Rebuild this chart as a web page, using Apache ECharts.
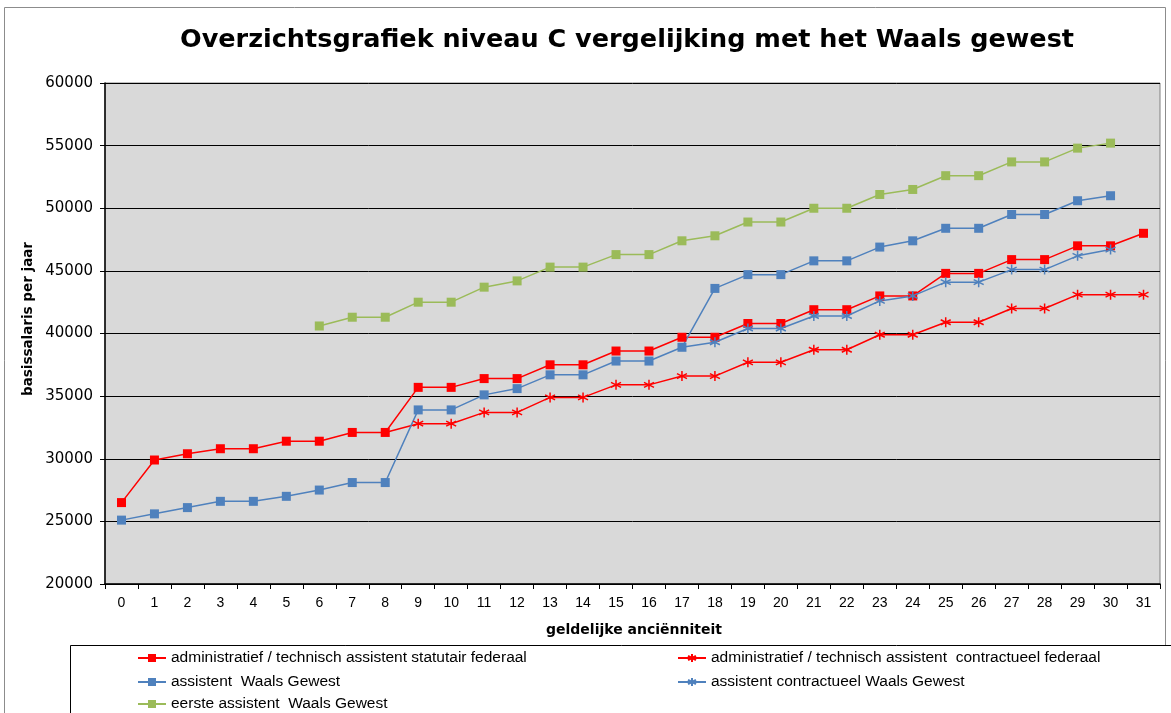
<!DOCTYPE html>
<html>
<head>
<meta charset="utf-8">
<title>Overzichtsgrafiek niveau C</title>
<script src="https://cdn.jsdelivr.net/npm/echarts@6/dist/echarts.min.js"></script>
<style>
  html, body { margin: 0; padding: 0; background: #ffffff; }
  #chart { width: 1171px; height: 713px; }
</style>
</head>
<body>
<div id="chart"></div>
<script>
// Geldelijke anciënniteit (jaren)
const categories = ['0','1','2','3','4','5','6','7','8','9','10','11','12','13','14','15',
  '16','17','18','19','20','21','22','23','24','25','26','27','28','29','30','31'];

const yTicks = { min: 20000, max: 60000, step: 5000 };

// Basissalaris per jaar
const statutairFederaal = [26500, 29900, 30400, 30800, 30800, 31400, 31400, 32100, 32100,
  35700, 35700, 36400, 36400, 37500, 37500, 38600, 38600, 39700, 39700, 40800, 40800,
  41900, 41900, 43000, 43000, 44800, 44800, 45900, 45900, 47000, 47000, 48000];

const contractueelFederaal = [null, null, null, null, null, null, null, null, 32100,
  32800, 32800, 33700, 33700, 34900, 34900, 35900, 35900, 36600, 36600, 37700, 37700,
  38700, 38700, 39900, 39900, 40900, 40900, 42000, 42000, 43100, 43100, 43100];

const assistentWaals = [25100, 25600, 26100, 26600, 26600, 27000, 27500, 28100, 28100,
  33900, 33900, 35100, 35600, 36700, 36700, 37800, 37800, 38900, 43600, 44700, 44700,
  45800, 45800, 46900, 47400, 48400, 48400, 49500, 49500, 50600, 51000, null];

const contractueelWaals = [null, null, null, null, null, null, null, null, null, null, null,
  null, null, null, null, null, null, 38900, 39300, 40400, 40400, 41400, 41400, 42600,
  43000, 44100, 44100, 45100, 45100, 46200, 46700, null];

const eersteAssistentWaals = [null, null, null, null, null, null, 40600, 41300, 41300,
  42500, 42500, 43700, 44200, 45300, 45300, 46300, 46300, 47400, 47800, 48900, 48900,
  50000, 50000, 51100, 51500, 52600, 52600, 53700, 53700, 54800, 55200, null];

const names = [
  'administratief / technisch assistent statutair federaal',
  'administratief / technisch assistent  contractueel federaal',
  'assistent  Waals Gewest',
  'assistent contractueel Waals Gewest',
  'eerste assistent  Waals Gewest'
];

// six-armed asterisk marker
const ASTERISK = 'path://M5,0L5,10M0.7,2.5L9.3,7.5M9.3,2.5L0.7,7.5';

// the first point of a branch-off series sits on its parent line: no marker there
function branchData(values) {
  const first = values.findIndex(v => v !== null);
  return values.map((v, i) => (i === first ? { value: v, symbol: 'none' } : v));
}

function squareSeries(name, values, color) {
  return {
    name, type: 'line', data: values, color,
    symbol: 'rect', symbolSize: 9,
    lineStyle: { width: 1.5, color },
    itemStyle: { color },
    connectNulls: false, animation: false
  };
}

function starSeries(name, values, color) {
  return {
    name, type: 'line', data: branchData(values), color,
    symbol: ASTERISK, symbolSize: 10,
    lineStyle: { width: 1.5, color },
    itemStyle: { color, borderColor: color, borderWidth: 1.5 },
    connectNulls: false, animation: false
  };
}

const RED = '#ff0000', BLUE = '#4f81bd', GREEN = '#9bbb59';

const chart = echarts.init(document.getElementById('chart'), null, { renderer: 'canvas' });

const legendText = { fontFamily: 'Liberation Sans, Arial, sans-serif', fontSize: 15.5, color: '#000' };

// one legend entry per slot: [series name, left, top]
const legendSlots = [
  [names[0], 137, 650], [names[1], 677, 650],
  [names[2], 137, 674], [names[3], 677, 674],
  [names[4], 137, 696]
];

chart.setOption({
  backgroundColor: '#ffffff',
  animation: false,
  grid: {
    left: 105, right: 11, top: 83, bottom: 129,
    show: true, backgroundColor: '#d9d9d9', borderColor: '#808080', borderWidth: 1
  },
  xAxis: {
    type: 'category', data: categories, boundaryGap: true,
    axisLine: { lineStyle: { color: '#000', width: 1.5 } },
    axisTick: { show: true, length: 5, lineStyle: { color: '#000' } },
    axisLabel: { margin: 12, color: '#000', fontSize: 14,
      fontFamily: 'Liberation Sans, Arial, sans-serif' },
    splitLine: { show: false }
  },
  yAxis: {
    type: 'value', min: yTicks.min, max: yTicks.max, interval: yTicks.step,
    axisLine: { show: true, lineStyle: { color: '#000', width: 1.5 } },
    axisTick: { show: true, length: 5, lineStyle: { color: '#000' } },
    axisLabel: { margin: 12, color: '#000', fontSize: 15, fontFamily: 'DejaVu Sans, sans-serif',
      formatter: v => String(v) },
    splitLine: { show: true, lineStyle: { color: '#000', width: 1 } }
  },
  legend: legendSlots.map(([name, left, top]) => ({
    data: [name], orient: 'horizontal', left, top, padding: 0,
    itemWidth: 28, itemHeight: 10, itemGap: 6, textStyle: legendText, selectedMode: false
  })),
  graphic: [
    {
      type: 'rect', z: -10, silent: true,
      shape: { x: 4.5, y: 7.5, width: 1161, height: 720 },
      style: { fill: '#ffffff', stroke: '#8c8c8c', lineWidth: 1 }
    },
    {
      type: 'rect', z: -5, silent: true,
      shape: { x: 70.5, y: 645.5, width: 1120, height: 100 },
      style: { fill: '#ffffff', stroke: '#000', lineWidth: 1 }
    },
    {
      type: 'text', x: 627, y: 40, silent: true,
      style: {
        text: 'Overzichtsgrafiek niveau C vergelijking met het Waals gewest',
        fontFamily: 'DejaVu Sans, Verdana, sans-serif', fontWeight: 'bold', fontSize: 25.5,
        fill: '#000', textAlign: 'center', textVerticalAlign: 'middle'
      }
    },
    {
      type: 'text', x: 634, y: 630, silent: true,
      style: {
        text: 'geldelijke anciënniteit',
        fontFamily: 'DejaVu Sans, Verdana, sans-serif', fontWeight: 'bold', fontSize: 14,
        fill: '#000', textAlign: 'center', textVerticalAlign: 'middle'
      }
    },
    {
      type: 'text', x: 28, y: 319, rotation: Math.PI / 2, silent: true,
      style: {
        text: 'basissalaris per jaar',
        fontFamily: 'DejaVu Sans, Verdana, sans-serif', fontWeight: 'bold', fontSize: 13.5,
        fill: '#000', textAlign: 'center', textVerticalAlign: 'middle'
      }
    }
  ],
  series: [
    squareSeries(names[0], statutairFederaal, RED),
    starSeries(names[1], contractueelFederaal, RED),
    squareSeries(names[2], assistentWaals, BLUE),
    starSeries(names[3], contractueelWaals, BLUE),
    squareSeries(names[4], eersteAssistentWaals, GREEN)
  ]
});
</script>
</body>
</html>
